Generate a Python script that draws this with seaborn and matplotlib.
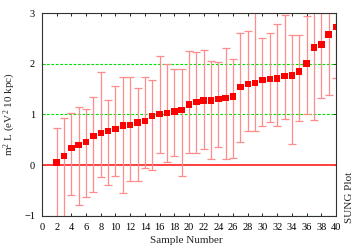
import matplotlib
matplotlib.use("Agg")
import matplotlib.pyplot as plt
import seaborn as sns
import numpy as np

# ── DATA ────────────────────────────────────────────────────
sample = list(range(2, 41))
value = [0.05, 0.18, 0.34, 0.40, 0.455, 0.57, 0.63, 0.67, 0.71, 0.78,
         0.79, 0.84, 0.87, 0.97, 1.01, 1.03, 1.06, 1.09, 1.20, 1.24,
         1.27, 1.27, 1.30, 1.32, 1.35, 1.54, 1.60, 1.62, 1.68, 1.70,
         1.71, 1.76, 1.77, 1.85, 2.00, 2.32, 2.38, 2.58, 2.72]
upper = [0.73, 0.93, 1.03, 1.15, 1.10, 1.35, 1.83, 1.29, 1.56, 1.74,
         1.74, 1.52, 1.74, 1.68, 2.16, 2.00, 1.90, 1.89, 2.26, 2.24,
         2.28, 2.05, 2.04, 2.30, 2.09, 2.61, 2.65, 3.20, 2.50, 2.61,
         2.79, 2.97, 2.57, 2.57, 2.95, 3.30, 3.40, 3.60, 3.70]
lower = [-1.30, -1.30, -0.59, -0.79, -0.63, -0.53, -0.24, -0.40, -0.22, -0.55,
         -0.32, -0.32, -0.06, -0.10, 0.24, 0.07, 0.18, -0.22, 0.24, 0.24,
         0.32, 0.12, 0.36, 0.12, 0.14, 0.46, 0.68, 0.67, 0.78, 0.85,
         0.78, 0.91, 0.42, 0.86, 1.01, 0.88, 1.33, 1.39, 1.72]

x_ticks = list(range(0, 41, 2))
y_ticks = [-1, 0, 1, 2, 3]

# ── STYLE ───────────────────────────────────────────────────
sns.set_theme(style="ticks")
plt.rcParams['font.family'] = ['Liberation Serif', 'DejaVu Serif']
plt.rcParams.update({'font.size': 7.5, 'xtick.direction': 'in', 'ytick.direction': 'in',
                     'mathtext.default': 'regular'})

fig = plt.figure(figsize=(3.54, 2.48), dpi=100)
ax = fig.add_axes([0.1186, 0.130, 0.8305, 0.8175])

v = np.array(value)
yerr = np.vstack([v - np.array(lower), np.array(upper) - v])

# grid lines & zero line
for gy in [-1, 1, 2, 3]:
    ax.axhline(gy, color='#00e000', lw=0.8, ls=(0, (2.5, 1.5)), zorder=1)
ax.axhline(0, color='#ff3030', lw=1.3, zorder=1)

ax.errorbar(sample, value, yerr=yerr, fmt='none', ecolor='#ff8c8c',
            elinewidth=0.9, capsize=3.0, capthick=0.9, zorder=2)
sns.scatterplot(x=sample, y=value, marker='s', s=22, color='#ff0000',
                edgecolor='none', ax=ax, zorder=3)

ax.set_xlim(0, 40)
ax.set_ylim(-1, 3)
ax.set_xticks(x_ticks)
ax.set_yticks(y_ticks)
ax.tick_params(top=True, right=True, length=2.5, width=0.6, pad=5,
               labelsize=7.5, colors='black')
for s in ax.spines.values():
    s.set_color('#333333')
    s.set_linewidth(0.8)

ax.set_xlabel('Sample Number', fontsize=8)
ax.set_ylabel('m$^2$ L (eV$^2$ 10 kpc)', fontsize=8)
ax.xaxis.set_label_coords(0.49, -0.10)
ax.yaxis.set_label_coords(-0.082, 0.5)

fig.text(0.986, 0.205, 'SUNG Plot', rotation=90, ha='center', va='center', fontsize=8)

plt.savefig('out.png', dpi=100)
plt.close()
